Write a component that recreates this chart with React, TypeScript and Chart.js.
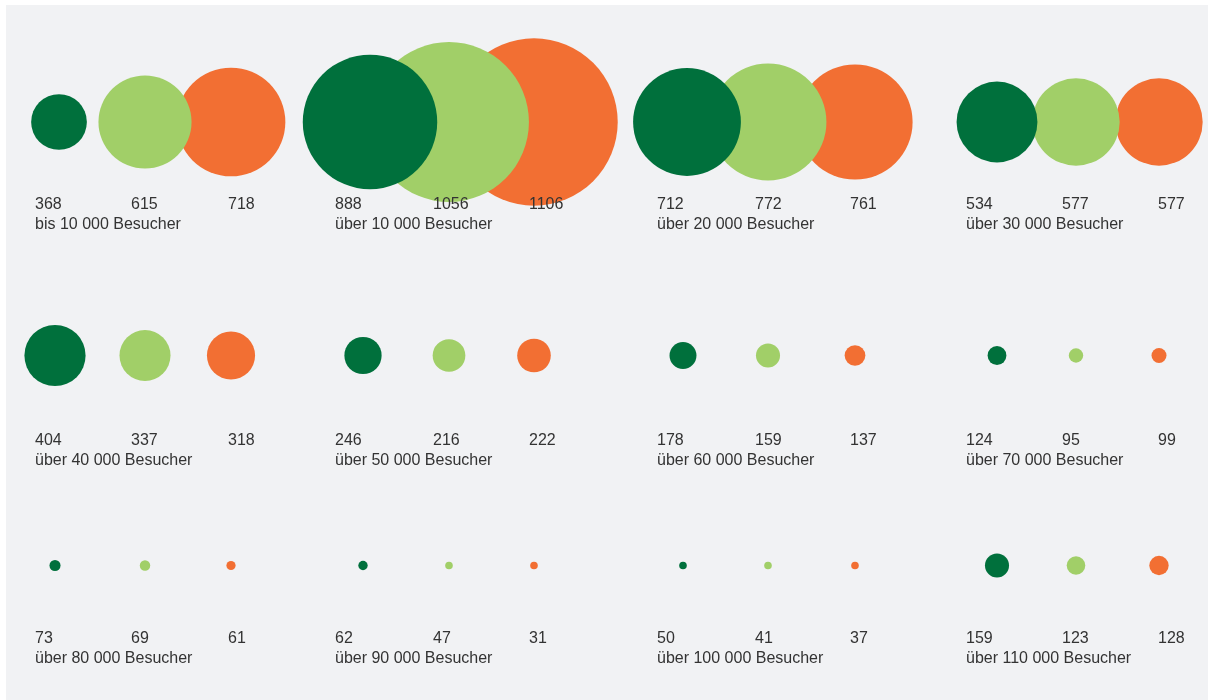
import React, { useEffect, useRef } from "react";
import { Chart, registerables } from "chart.js";

Chart.register(...registerables);

// ---- data ----
const categories = [
  "bis 10 000 Besucher",
  "über 10 000 Besucher",
  "über 20 000 Besucher",
  "über 30 000 Besucher",
  "über 40 000 Besucher",
  "über 50 000 Besucher",
  "über 60 000 Besucher",
  "über 70 000 Besucher",
  "über 80 000 Besucher",
  "über 90 000 Besucher",
  "über 100 000 Besucher",
  "über 110 000 Besucher",
];
const seriesNames = ["Serie 1", "Serie 2", "Serie 3"];
const seriesDark = [368, 888, 712, 534, 404, 246, 178, 124, 73, 62, 50, 159];
const seriesLight = [615, 1056, 772, 577, 337, 216, 159, 95, 69, 47, 41, 123];
const seriesOrange = [718, 1106, 761, 577, 318, 222, 137, 99, 61, 31, 37, 128];

// ---- layout / style ----
const W = 1209;
const H = 700;
const COLORS = ["#00703c", "#a1cf68", "#f26f33"];
const BG = "#f1f2f4";
const TEXT = "#333333";
const RADIUS_PER_UNIT = 0.0757;
const MIN_RADIUS = 3.8;
const COLS = 4;
// bubble centre x (in x-scale units) per column and slot
const bubbleX = [
  [55, 145, 231],
  [363, 449, 534],
  [683, 768, 855],
  [997, 1076, 1159],
];
const firstRowShift = [4, 7, 4, 0]; // big bubbles in first row sit slightly right
const bubbleRowY = [122, 355.5, 565.5];
const labelX = [
  [35, 131, 228],
  [335, 433, 529],
  [657, 755, 850],
  [966, 1062, 1158],
];
const valueBaseline = [208.5, 444.5, 643];
const categoryGap = 20;

const allSeries = [seriesDark, seriesLight, seriesOrange];

function pointFor(series: number[], s: number, i: number) {
  const col = i % COLS;
  const row = Math.floor(i / COLS);
  const shift = row === 0 && s === 0 ? firstRowShift[col] : 0;
  return {
    x: bubbleX[col][s] + shift,
    y: bubbleRowY[row],
    r: Math.max(series[i] * RADIUS_PER_UNIT, MIN_RADIUS),
  };
}

const panelPlugin = {
  id: "panel",
  beforeDraw(chart: any) {
    const { ctx } = chart;
    ctx.save();
    ctx.fillStyle = "#ffffff";
    ctx.fillRect(0, 0, chart.width, chart.height);
    ctx.fillStyle = BG;
    ctx.fillRect(6, 5, chart.width - 7, chart.height - 5);
    ctx.restore();
  },
};

const labelPlugin = {
  id: "labels",
  afterDatasetsDraw(chart: any) {
    const { ctx, scales } = chart;
    const xs = scales.x;
    const ys = scales.y;
    ctx.save();
    ctx.fillStyle = TEXT;
    ctx.font = "16px 'Liberation Sans', Arial, Helvetica, sans-serif";
    ctx.textAlign = "left";
    ctx.textBaseline = "alphabetic";
    categories.forEach((cat, i) => {
      const col = i % COLS;
      const row = Math.floor(i / COLS);
      const by = ys.getPixelForValue(valueBaseline[row]);
      allSeries.forEach((series, s) => {
        ctx.fillText(String(series[i]), xs.getPixelForValue(labelX[col][s]), by);
      });
      ctx.fillText(cat, xs.getPixelForValue(labelX[col][0]), by + categoryGap);
    });
    ctx.restore();
  },
};

export default function App() {
  const ref = useRef<HTMLCanvasElement | null>(null);

  useEffect(() => {
    if (!ref.current) return;
    const chart = new Chart(ref.current, {
      type: "bubble",
      data: {
        datasets: allSeries.map((series, s) => ({
          label: seriesNames[s],
          data: categories.map((_, i) => pointFor(series, s, i)),
          backgroundColor: COLORS[s],
          borderWidth: 0,
          hoverBorderWidth: 0,
          clip: false as any,
        })),
      },
      options: {
        responsive: false,
        animation: false,
        layout: { padding: 0, autoPadding: false } as any,
        plugins: {
          legend: { display: false },
          tooltip: { enabled: false },
        },
        events: [],
        scales: {
          x: { type: "linear", min: 0, max: W, display: false },
          y: { type: "linear", min: 0, max: H, reverse: true, display: false },
        },
      },
      plugins: [panelPlugin, labelPlugin],
    });
    return () => chart.destroy();
  }, []);

  return (
    <div style={{ position: "absolute", left: 0, top: 0, width: W, height: H }}>
      <canvas ref={ref} width={W} height={H} style={{ display: "block" }} />
    </div>
  );
}
